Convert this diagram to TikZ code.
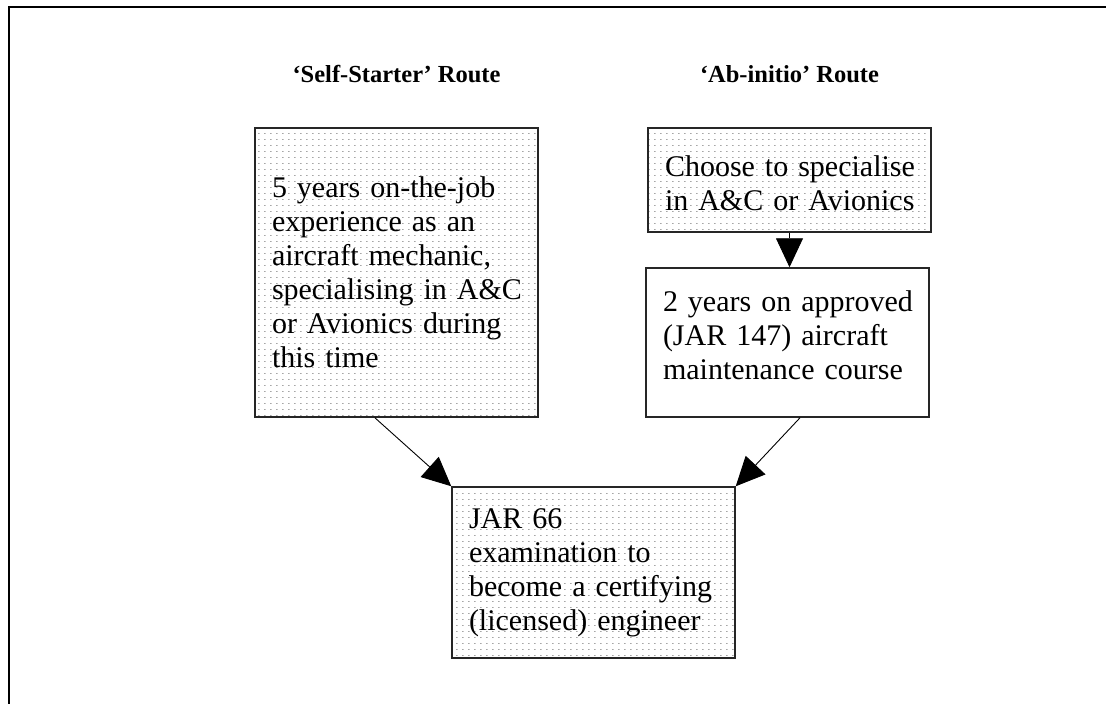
\documentclass[tikz,border=0pt]{standalone}
\usepackage{fontspec}
\setmainfont{Liberation Serif}
\usetikzlibrary{arrows.meta,positioning,calc,patterns.meta}

\tikzdeclarepattern{
  name=speckle,
  type=uncolored,
  bounding box={(0,0) and (6pt,6pt)},
  tile size={(6pt,6pt)},
  code={\fill (0pt,0pt) rectangle (2pt,1pt);}
}

\begin{document}
\begin{tikzpicture}[x=1pt,y=-1pt,
  stage/.style={draw=black!85, line width=1.5pt, inner xsep=0pt, inner ysep=0pt, text width=283pt, align=left,
    font=\fontsize{30}{34}\selectfont, execute at begin node={\leftskip=17pt\hyphenpenalty=10000}},
  lift/.style={execute at end node={\rule[-#1]{0pt}{#1}}},
  drop/.style={execute at begin node={\rule{0pt}{#1}}},
  speckled/.style={pattern=speckle, pattern color=black!35},
  heading/.style={anchor=base, font=\fontsize{24.5}{30}\selectfont\bfseries},
  link/.style={-{Triangle[length=29pt,width=27pt]}, line width=0.9pt}]

  % page and frame
  \path[use as bounding box, fill=white] (0,0) rectangle (1106,704);
  \draw[line width=2.5pt] (9.2,704) -- (9.2,7) -- (1106,7);

  % route headings
  \node[heading] (selfhead) at (396.5,82) {‘Self-Starter’ Route};
  \node[heading] (abhead) at (789.5,82) {‘Ab-initio’ Route};

  % self-starter box
  \node[stage, speckled, minimum height=289pt] (selfbox) at (396.5,272.5) {5 years on-the-job\\experience as an\\aircraft mechanic,\\specialising in A\&C\\or Avionics during\\this time};

  % ab-initio boxes
  \node[stage, speckled, minimum height=104pt, drop=27pt] (choosebox) at (789.5,180) {Choose to specialise\\in A\&C or Avionics};
  \node[stage, fill=white, minimum height=149pt, lift=14pt] (coursebox) at (787.5,342.5) {2 years on approved\\(JAR 147) aircraft\\maintenance course};

  % examination box
  \node[stage, speckled, minimum height=171pt] (exambox) at (593.5,572.5) {JAR 66\\examination to\\become a certifying\\(licensed) engineer};

  % arrows
  \draw[link] (choosebox.south) -- (choosebox.south |- coursebox.north);
  \draw[link] ($(selfbox.south west)!0.424!(selfbox.south east)$) -- (exambox.north west);
  \draw[link] ($(coursebox.south west)!0.544!(coursebox.south east)$) -- (exambox.north east);
\end{tikzpicture}
\end{document}
